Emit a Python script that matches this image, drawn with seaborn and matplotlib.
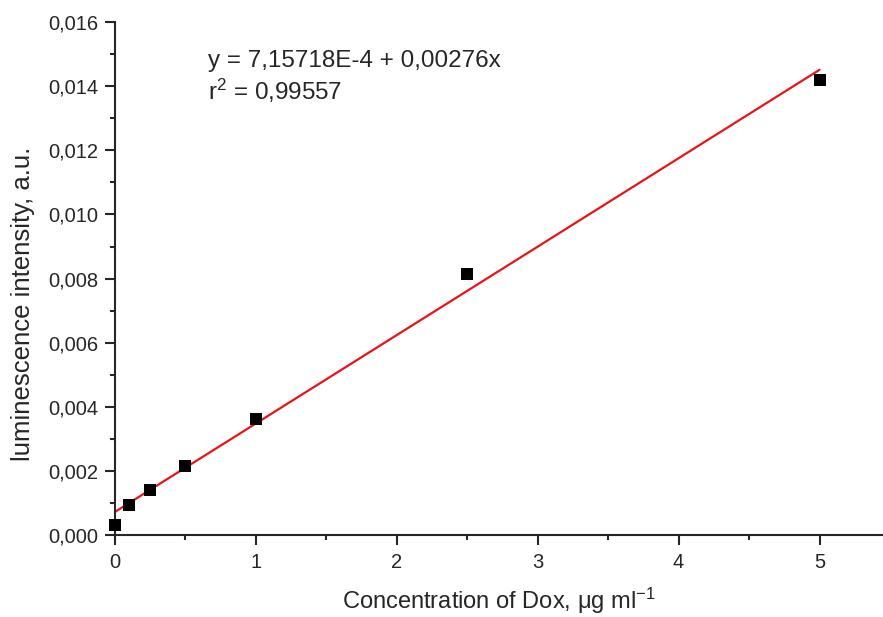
import numpy as np
import pandas as pd
import matplotlib
matplotlib.use('Agg')
import matplotlib.pyplot as plt
import seaborn as sns
from matplotlib.ticker import MultipleLocator, FuncFormatter

# data
conc = [0, 0.1, 0.25, 0.5, 1, 2.5, 5]
lum = [0.00030, 0.00093, 0.00141, 0.00216, 0.00363, 0.00815, 0.01421]
intercept = 7.15718e-4
slope = 0.00276
r2 = 0.99557

sns.set_style('ticks')
plt.rcParams['font.family'] = ['Liberation Sans', 'DejaVu Sans']
plt.rcParams['mathtext.fontset'] = 'custom'
plt.rcParams['mathtext.rm'] = 'Liberation Sans'
plt.rcParams['mathtext.it'] = 'Liberation Sans'

fig = plt.figure(figsize=(8.83, 6.17), dpi=100)
ax = fig.add_axes([0.130, 0.133, 0.870, 0.831])

df = pd.DataFrame({'conc': conc, 'lum': lum})
fit_x = [min(conc), max(conc)]
fit = pd.DataFrame({'x': fit_x, 'y': [intercept + slope * v for v in fit_x]})

sns.lineplot(data=fit, x='x', y='y', color='#e8141b', linewidth=1.6, ax=ax, zorder=2)
sns.scatterplot(data=df, x='conc', y='lum', marker='s', s=68, color='black',
                edgecolor='black', linewidth=0, ax=ax, zorder=3, clip_on=False)

ax.set_xlim(0, 5.45)
ax.set_ylim(0, 0.016)
ax.xaxis.set_major_locator(MultipleLocator(1))
ax.xaxis.set_minor_locator(MultipleLocator(0.5))
ax.yaxis.set_major_locator(MultipleLocator(0.002))
ax.yaxis.set_minor_locator(MultipleLocator(0.001))
ax.yaxis.set_major_formatter(FuncFormatter(lambda v, p: f'{v:.3f}'.replace('.', ',')))
ax.xaxis.set_major_formatter(FuncFormatter(lambda v, p: f'{v:g}'))

sns.despine(ax=ax)
for s in ['left', 'bottom']:
    ax.spines[s].set_linewidth(1.5)
ax.tick_params(which='major', direction='out', length=7, width=1.5, labelsize=14.5)
ax.tick_params(axis='y', which='major', pad=5)
ax.tick_params(axis='x', which='major', pad=6)
ax.tick_params(which='minor', direction='out', length=3.8, width=1.5)

ax.set_xlabel('Concentration of Dox, μg ml$^{\\mathregular{-1}}$', fontsize=17)
ax.set_ylabel('luminescence intensity, a.u.', fontsize=18.5)
ax.xaxis.set_label_coords(0.5, -0.099)
ax.yaxis.set_label_coords(-0.104, 0.45)

ax.text(0.66, 0.014594, f'y = 7,15718E-4 + {slope:.5f}x'.replace('.', ','),
        fontsize=17.5, va='baseline', ha='left')
ax.text(0.66, 0.013562, r'r$^2$ = ' + f'{r2:.5f}'.replace('.', ','),
        fontsize=17.5, va='baseline', ha='left')

plt.savefig('out.png', dpi=100)
